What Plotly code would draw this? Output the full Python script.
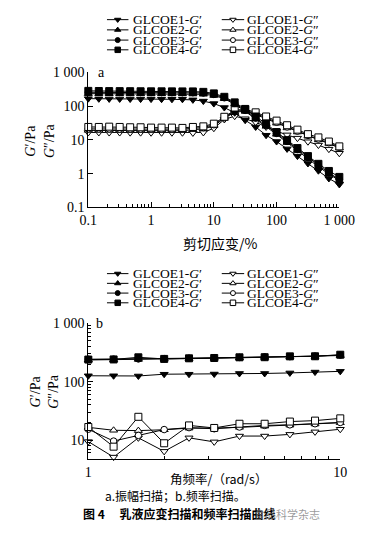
import plotly.graph_objects as go

W, H = 374, 557

# ---------------- data: (a) strain sweep ----------------
strain = [0.1, 0.147, 0.215, 0.316, 0.464, 0.681, 1, 1.47, 2.15, 3.16, 4.64, 6.81,
          10, 14.7, 21.5, 31.6, 46.4, 68.1, 100, 147, 215, 316, 464, 681, 1000]

a_G1_storage = [165, 163, 162, 162, 161, 160, 160, 159, 158, 158, 152, 140,
                118, 90, 63, 38, 24, 13.7, 8.9, 5.4, 3.3, 2.0, 1.22, 0.72, 0.48]
a_G2_storage = [232, 231, 230, 230, 229, 229, 228, 228, 227, 227, 226, 222,
                205, 165, 112, 70, 41, 25, 14.5, 8.3, 4.8, 2.8, 1.6, 0.98, 0.62]
a_G3_storage = [255, 254, 253, 252, 251, 250, 250, 249, 249, 248, 248, 243,
                220, 175, 120, 75, 44, 27, 15.5, 9.0, 5.2, 3.0, 1.75, 1.05, 0.68]
a_G4_storage = [280, 278, 276, 275, 274, 273, 272, 272, 271, 270, 270, 262,
                236, 187, 128, 82, 49, 30, 17, 9.8, 5.7, 3.3, 1.95, 1.2, 0.8]

a_G1_loss = [16.5, 16.5, 16.4, 16.4, 16.3, 16.3, 16.2, 16.2, 16.2, 16.2, 16.0, 16.5,
             22, 40, 50, 42, 33, 24, 18, 14, 11.2, 8.8, 7.0, 5.3, 4.0]
a_G2_loss = [19, 19, 19, 18.8, 18.8, 18.7, 18.7, 18.6, 18.6, 18.6, 20, 21,
             26, 43, 66, 70, 56, 42, 31, 22.5, 17, 12.8, 10, 7.8, 5.7]
a_G3_loss = [21, 21, 21, 20.8, 20.8, 20.7, 20.7, 20.6, 20.6, 20.6, 22, 23,
             28, 45, 70, 75, 60, 45, 33, 24, 18, 13.5, 10.5, 8.2, 6.0]
a_G4_loss = [24, 24, 24.5, 24, 23.5, 23.5, 23, 23, 23, 22.5, 24, 25,
             30, 48, 75, 80, 65, 49, 37, 27, 20, 14.7, 11.8, 8.9, 6.4]

# ---------------- data: (b) frequency sweep ----------------
freq = [1, 1.26, 1.58, 2, 2.51, 3.16, 3.98, 5.01, 6.31, 7.94, 10]

b_G1_storage = [126, 126, 125, 134, 134, 135, 138, 138, 141, 146, 150]
b_G2_storage = [235, 237, 240, 243, 247, 251, 256, 260, 265, 270, 280]
b_G3_storage = [242, 243, 245, 248, 252, 256, 260, 265, 268, 273, 285]
b_G4_storage = [239, 240, 261, 245, 251, 254, 261, 262, 271, 272, 289]

b_G1_loss = [9.4, 5.1, 10.9, 6.4, 10.9, 9.3, 11.7, 11.7, 12.5, 13.8, 15.3]
b_G2_loss = [16.5, 14.7, 14.5, 15, 16, 16, 16.5, 17.3, 18, 18.8, 19.8]
b_G3_loss = [15.3, 9.6, 12, 15.1, 16.3, 15.6, 16.7, 17.8, 18.2, 19, 20]
b_G4_loss = [16.7, 7.7, 25, 8.8, 17.8, 16.1, 19, 19, 20.7, 21.5, 23.5]

series_names = ["GLCOE1", "GLCOE2", "GLCOE3", "GLCOE4"]
symbols = ["triangle-down", "triangle-up", "circle", "square"]
sizes = [7, 7, 6.5, 7]

a_storage = [a_G1_storage, a_G2_storage, a_G3_storage, a_G4_storage]
a_loss = [a_G1_loss, a_G2_loss, a_G3_loss, a_G4_loss]
b_storage = [b_G1_storage, b_G2_storage, b_G3_storage, b_G4_storage]
b_loss = [b_G1_loss, b_G2_loss, b_G3_loss, b_G4_loss]

a_ticks = [0.1, 1, 10, 100, 1000]
a_ticktext = ["0.1", "1", "10", "100", "1 000"]
b_xticks = [1, 10]
b_xticktext = ["1", "10"]
b_yticks = [10, 100, 1000]
b_yticktext = ["10", "100", "1 000"]

SERIF = "Liberation Serif, Times New Roman, serif"
CJK = "Noto Sans CJK SC, sans-serif"
FS = 14
LFS = 13.5

fig = go.Figure()


def px_x(p):
    return p / W


def px_y(p):
    return 1 - p / H


def add_series(xs, ys_list, xa, ya, filled):
    for i, ys in enumerate(ys_list):
        fig.add_trace(go.Scatter(
            x=xs, y=ys, xaxis=xa, yaxis=ya, mode="lines+markers",
            line=dict(color="black", width=1),
            marker=dict(symbol=symbols[i], size=sizes[i],
                        color="black" if filled else "white",
                        line=dict(color="black", width=1)),
            cliponaxis=False, showlegend=False, hoverinfo="skip"))


# loss first, storage on top
add_series(strain, a_loss, "x", "y", False)
add_series(strain, a_storage, "x", "y", True)
add_series(freq, b_loss, "x2", "y2", False)
add_series(freq, b_storage, "x2", "y2", True)

# ---------------- manual legends on a pixel overlay axis ----------------
legend_rows_a = [13, 23.5, 34, 44]
legend_rows_b = [274, 284, 294, 304]
cols = [(105, 128, 132), (228, 252, 254)]

annotations = []
for rows in (legend_rows_a, legend_rows_b):
    for i, yy in enumerate(rows):
        for c, (x1, x2, xt) in enumerate(cols):
            filled = (c == 0)
            fig.add_trace(go.Scatter(
                x=[x1, x2], y=[yy, yy], xaxis="x3", yaxis="y3", mode="lines",
                line=dict(color="black", width=1), cliponaxis=False,
                showlegend=False, hoverinfo="skip"))
            fig.add_trace(go.Scatter(
                x=[(x1 + x2) / 2], y=[yy], xaxis="x3", yaxis="y3", mode="markers",
                marker=dict(symbol=symbols[i], size=sizes[i] - 1.5,
                            color="black" if filled else "white",
                            line=dict(color="black", width=1)),
                cliponaxis=False, showlegend=False, hoverinfo="skip"))
            prime = "′" if c == 0 else "″"
            annotations.append(dict(
                x=xt, y=yy, xref="x3", yref="y3", xanchor="left", yanchor="middle",
                text=f"{series_names[i]}-<i>G</i>{prime}", showarrow=False,
                borderpad=0, font=dict(family=SERIF, size=LFS, color="black")))

# panel labels, axis titles, captions
annotations += [
    dict(x=99, y=67, xref="x3", yref="y3", text="a", showarrow=False,
         font=dict(family=SERIF, size=FS, color="black")),
    dict(x=97, y=325, xref="x3", yref="y3", text="b", showarrow=False,
         font=dict(family=SERIF, size=FS, color="black")),
    dict(x=33, y=137, xref="x3", yref="y3", textangle=-90, showarrow=False,
         text="<i>G</i>′/Pa<br><i>G</i>″/Pa",
         font=dict(family=SERIF, size=FS, color="black")),
    dict(x=38, y=395, xref="x3", yref="y3", textangle=-90, showarrow=False,
         text="<i>G</i>′/Pa<br><i>G</i>″/Pa",
         font=dict(family=SERIF, size=FS, color="black")),
    dict(x=226, y=243, xref="x3", yref="y3", showarrow=False,
         text="剪切应变/%", font=dict(family=CJK, size=14, color="black")),
    dict(x=224, y=485, xref="x3", yref="y3", showarrow=False,
         text="角频率/（rad/s）", font=dict(family=CJK, size=12.5, color="black")),
    dict(x=178, y=502, xref="x3", yref="y3", showarrow=False,
         text="a.振幅扫描；b.频率扫描。", font=dict(family=CJK, size=12, color="black")),
    dict(x=77, y=521, xref="x3", yref="y3", xanchor="left", showarrow=False,
         text="<b>图 4　 乳液应变扫描和频率扫描曲线</b>",
         font=dict(family=CJK, size=12, color="black")),
    dict(x=298, y=521, xref="x3", yref="y3", showarrow=False,
         text="食品科学杂志", font=dict(family=CJK, size=11, color="rgba(120,120,120,0.75)")),
]

axis_common = dict(showline=True, linecolor="black", linewidth=1, ticks="inside",
                   ticklen=5, tickwidth=1, tickcolor="black", showgrid=False,
                   zeroline=False, mirror=False, fixedrange=True,
                   tickfont=dict(family=SERIF, size=FS, color="black"))

a_minor = [m * d for d in (0.1, 1, 10, 100) for m in range(2, 10)]
b_xminor = list(range(2, 10))
b_yminor = [6, 7, 8, 9] + [m * 10 for m in range(2, 10)] + [m * 100 for m in range(2, 10)]

fig.update_layout(
    width=W, height=H, margin=dict(l=0, r=0, t=0, b=0),
    paper_bgcolor="white", plot_bgcolor="rgba(0,0,0,0)",
    showlegend=False,
    xaxis=dict(axis_common, type="log", range=[-1, 3], domain=[px_x(85), px_x(354)],
               anchor="y", tickmode="array", tickvals=a_ticks, ticktext=a_ticktext,
               minor=dict(tickmode="array", tickvals=a_minor, ticks="inside",
                          ticklen=3, tickcolor="black", showgrid=False)),
    yaxis=dict(axis_common, type="log", range=[-1, 3], domain=[px_y(206), px_y(67)],
               anchor="x", tickmode="array", tickvals=a_ticks, ticktext=a_ticktext),
    xaxis2=dict(axis_common, type="log", range=[0, 1], domain=[px_x(85), px_x(355)],
                anchor="y2", tickmode="array", tickvals=b_xticks, ticktext=b_xticktext,
                minor=dict(tickmode="array", tickvals=b_xminor, ticks="inside",
                           ticklen=3, tickcolor="black", showgrid=False)),
    yaxis2=dict(axis_common, type="log", range=[0.667, 3], domain=[px_y(465), px_y(325)],
                anchor="x2", tickmode="array", tickvals=b_yticks, ticktext=b_yticktext,
                minor=dict(tickmode="array", tickvals=b_yminor, ticks="inside",
                           ticklen=3, tickcolor="black", showgrid=False)),
    xaxis3=dict(domain=[0, 1], range=[0, W], visible=False, anchor="y3", fixedrange=True),
    yaxis3=dict(domain=[0, 1], range=[H, 0], visible=False, anchor="x3", fixedrange=True),
    annotations=annotations,
)

fig.write_html("out.html", config={"displayModeBar": False, "staticPlot": True},
               post_script="document.body.style.margin='0';document.body.style.overflow='hidden';")
